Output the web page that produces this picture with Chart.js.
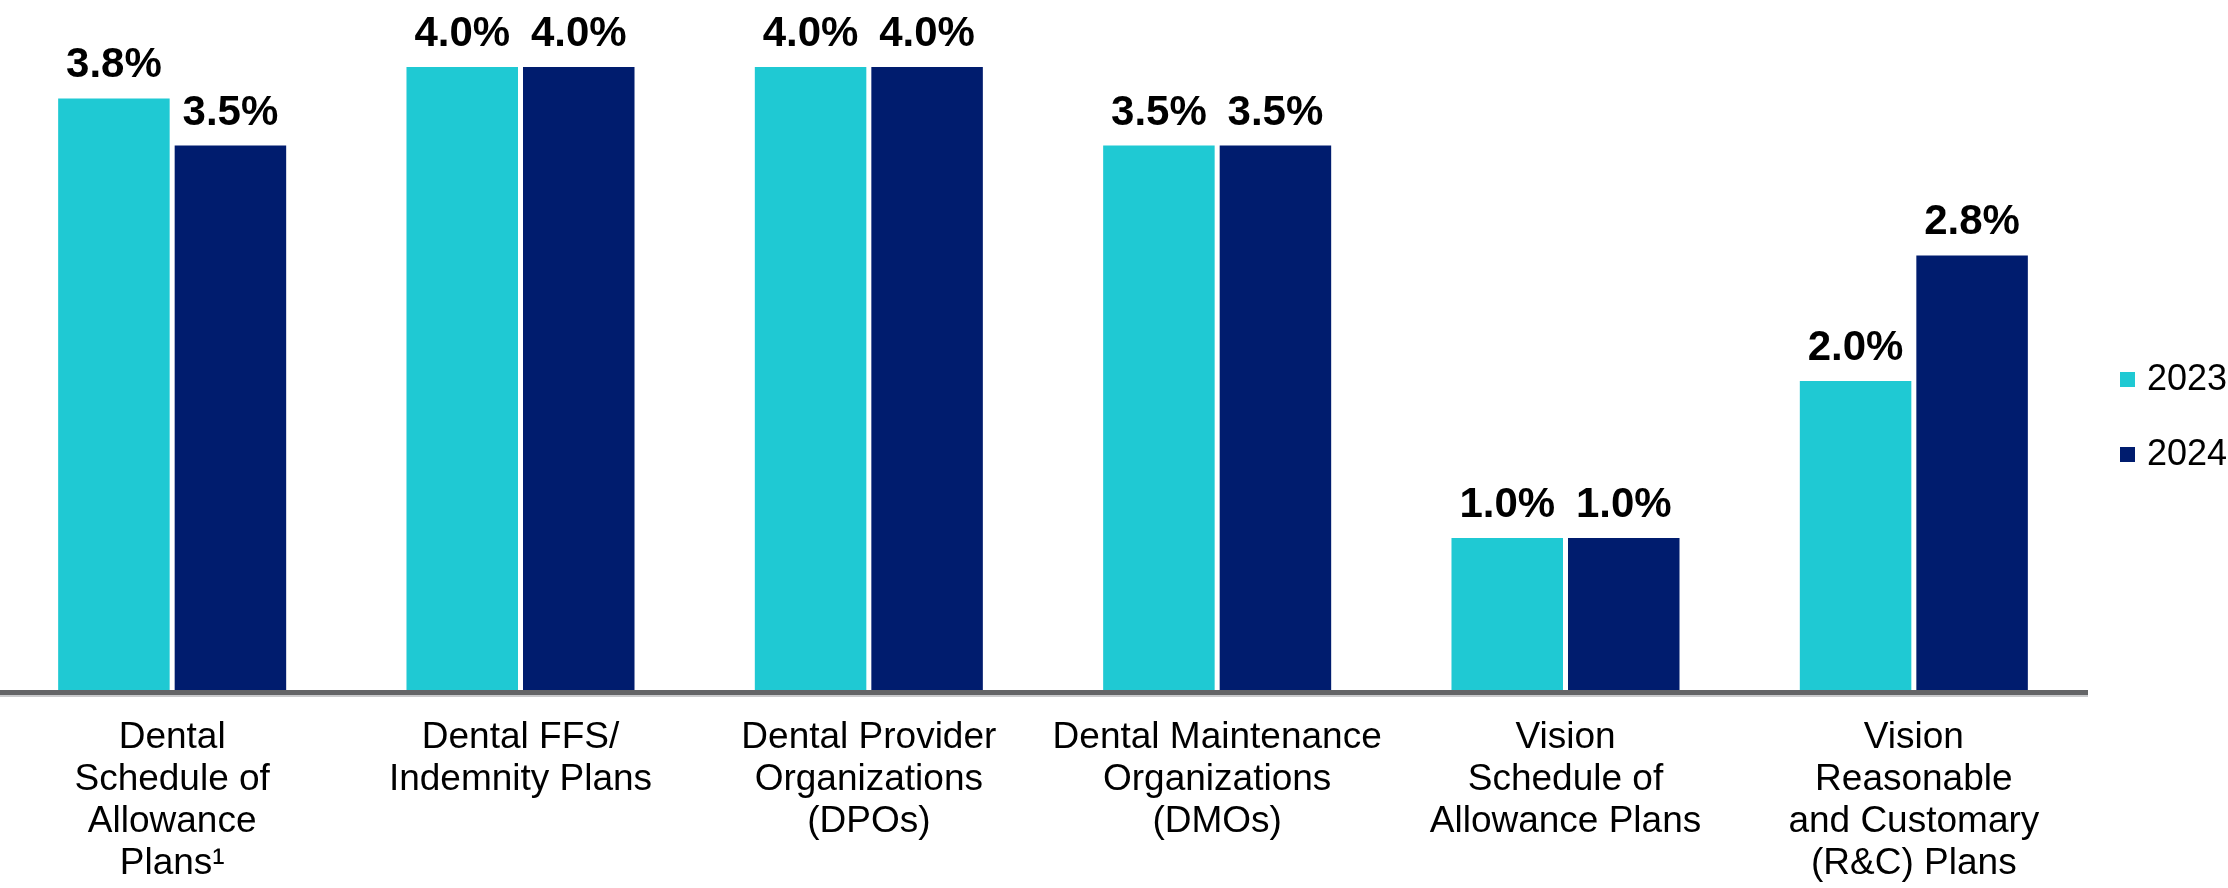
<!DOCTYPE html>
<html>
<head>
<meta charset="utf-8">
<script src="https://cdn.jsdelivr.net/npm/chart.js@4/dist/chart.umd.min.js"></script>
<style>
  html, body { margin: 0; padding: 0; background: #ffffff; overflow: hidden; }
  #wrap { position: absolute; left: -2px; top: 0; width: 2230px; height: 888px; }
</style>
</head>
<body>
<div id="wrap"><canvas id="c"></canvas></div>
<script>
const categories = [
  ["Dental", "Schedule of", "Allowance", "Plans\u00B9"],
  ["Dental FFS/", "Indemnity Plans"],
  ["Dental Provider", "Organizations", "(DPOs)"],
  ["Dental Maintenance", "Organizations", "(DMOs)"],
  ["Vision", "Schedule of", "Allowance Plans"],
  ["Vision", "Reasonable", "and Customary", "(R&C) Plans"]
];
const seriesNames = ["2023", "2024"];
const values2023 = [3.8, 4.0, 4.0, 3.5, 1.0, 2.0];
const values2024 = [3.5, 4.0, 4.0, 3.5, 1.0, 2.8];
const colors = ["#1FC9D3", "#001C6E"];

const FONT = "'Liberation Sans', Arial, Helvetica, sans-serif";

const valueLabels = {
  id: 'valueLabels',
  afterDatasetsDraw(chart) {
    const ctx = chart.ctx;
    ctx.save();
    ctx.font = "bold 42px " + FONT;
    ctx.fillStyle = "#000000";
    ctx.textAlign = "center";
    ctx.textBaseline = "alphabetic";
    chart.data.datasets.forEach((ds, i) => {
      const meta = chart.getDatasetMeta(i);
      meta.data.forEach((el, j) => {
        ctx.fillText(ds.data[j].toFixed(1) + "%", el.x, el.y - 21);
      });
    });
    ctx.restore();
  }
};

const axisLine = {
  id: 'axisLine',
  afterDatasetsDraw(chart) {
    const ctx = chart.ctx;
    const a = chart.chartArea;
    ctx.save();
    ctx.fillStyle = "#646567";
    ctx.fillRect(0, a.bottom - 5, a.right, 5);
    ctx.fillStyle = "#c9cacc";
    ctx.fillRect(0, a.bottom, a.right, 2);
    ctx.restore();
  }
};

const sideLegend = {
  id: 'sideLegend',
  afterDraw(chart) {
    const ctx = chart.ctx;
    ctx.save();
    ctx.font = "36px " + FONT;
    ctx.textAlign = "left";
    ctx.textBaseline = "middle";
    chart.data.datasets.forEach((ds, i) => {
      const cy = 379.5 + i * 75;
      ctx.fillStyle = ds.backgroundColor;
      ctx.fillRect(2122, cy - 7.5, 15, 15);
      ctx.fillStyle = "#000000";
      ctx.fillText(ds.label, 2149, cy + 1);
    });
    ctx.restore();
  }
};

new Chart(document.getElementById('c'), {
  type: 'bar',
  data: {
    labels: categories,
    datasets: [
      { label: seriesNames[0], data: values2023, backgroundColor: colors[0] },
      { label: seriesNames[1], data: values2024, backgroundColor: colors[1] }
    ]
  },
  options: {
    responsive: true,
    maintainAspectRatio: false,
    animation: false,
    devicePixelRatio: 1,
    categoryPercentage: 0.669,
    barPercentage: 0.957,
    layout: { padding: { left: 0, right: 140, top: 0, bottom: 0 } },
    plugins: {
      legend: { display: false },
      tooltip: { enabled: false }
    },
    scales: {
      x: {
        grid: { display: false, drawTicks: false },
        border: { display: false },
        ticks: {
          autoSkip: false,
          maxRotation: 0,
          minRotation: 0,
          padding: 22,
          color: "#000000",
          font: { family: FONT, size: 37, lineHeight: 42 / 37 }
        },
        afterFit(scale) { scale.height = 193; }
      },
      y: {
        display: false,
        min: 0,
        max: 4.427
      }
    }
  },
  plugins: [valueLabels, axisLine, sideLegend]
});
</script>
</body>
</html>
